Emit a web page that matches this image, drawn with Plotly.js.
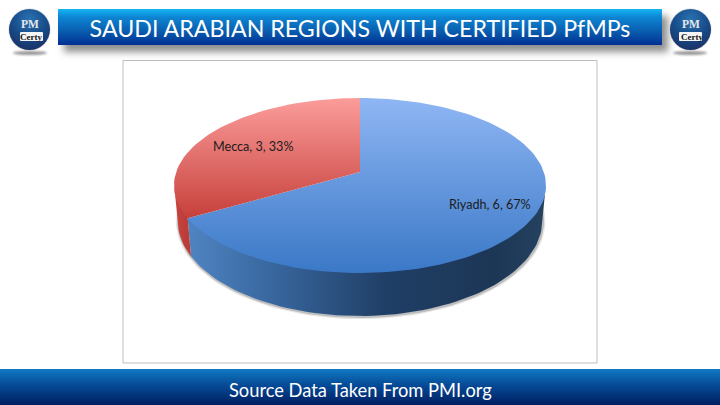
<!DOCTYPE html>
<html><head><meta charset="utf-8">
<script src="https://cdn.plot.ly/plotly-3.0.1.min.js"></script>
<style>
html,body{margin:0;padding:0;background:#fff;width:720px;height:405px;overflow:hidden}
.b{position:absolute}
#chart{position:absolute;left:0;top:0;width:720px;height:405px}
.bar{left:58px;top:9px;width:604px;height:36px;background:linear-gradient(#15b6f2 0%,#0d86d4 22%,#0a5fb0 60%,#003092 100%);box-shadow:6px 7px 7px rgba(70,70,70,.6)}
.foot{left:0;top:369px;width:720px;height:36px;background:linear-gradient(#1079c4 0%,#064a96 45%,#001f62 100%)}
.logo{top:9px;width:41px;height:41px;border-radius:50%;background:radial-gradient(circle at 50% 25%,#2a71b2 0%,#174a86 50%,#1c2658 100%);box-shadow:0 0 1px #667}
.sh{top:51px;width:34px;height:4px;border-radius:50%;background:#9a9a9a;filter:blur(.8px)}
.tag{top:32px;width:23px;height:9px;background:#f4f4f4;border-radius:1px}
</style></head><body>
<div class="b bar"></div><div class="b foot"></div>
<div class="b sh" style="left:13px"></div><div class="b logo" style="left:9px"></div><div class="b tag" style="left:20px"></div>
<div class="b sh" style="left:673px"></div><div class="b logo" style="left:670px"></div><div class="b tag" style="left:679px"></div>
<div id="chart"></div>
<script>
const categories = ["Riyadh", "Mecca"];
const values = [6, 3];
const titleText = "SAUDI ARABIAN REGIONS WITH CERTIFIED PfMPs";
const footerText = "Source Data Taken From PMI.org";

// Styling and projection of the tilted disc
const topColors = [["#8fb6f4","#3a78c6"],["#fb9d9b","#c53d38"]];
const topGradientEnd = [273, 222];
const sideColors = [
  [[0,"#4f84c2"],[0.25,"#37659c"],[0.55,"#203f66"],[0.85,"#1c3656"],[1,"#24425f"]],
  [[0,"#c8443e"],[1,"#b83a36"]]
];
const labelPos = [[490,204],[253.5,146]];
const P = 27/175, B = -58.88, K = 183.8, CX = 360, CY = 172;

function project(deg, lower){
  const a = deg*Math.PI/180, u = Math.sin(a), v = Math.cos(a), w = 1+P*v;
  const x = K*u/w, y = (CY+B*v)/w;
  return lower ? [CX+x*0.98, 256+(y-218)*1.09] : [CX+x, y];
}
function arc(a0,a1,lower){
  const out=[], n=Math.max(2,Math.ceil(Math.abs(a1-a0)/2));
  for(let i=0;i<=n;i++) out.push(project(a0+(a1-a0)*i/n,lower));
  return out;
}
const total = values.reduce((s,v)=>s+v,0);
const spans=[]; let acc=0;
values.forEach(v=>{const s=acc; acc+=v/total*360; spans.push([s,acc]);});
const SIL0 = Math.acos(-P)*180/Math.PI, SIL1 = 360-SIL0;

const traces=[];
// soft contact shadow
[[5,"rgba(120,120,120,.18)"],[2.5,"rgba(110,110,110,.35)"]].forEach(([w,c])=>{
  const s=arc(SIL0-14,SIL1+14,true);
  traces.push({type:"scatter",mode:"lines",x:s.map(p=>p[0]+0.6),y:s.map(p=>p[1]+0.8),
    line:{color:c,width:w},hoverinfo:"skip",showlegend:false});
});
// rim, tucked slightly under the top face so no white seam shows
spans.forEach((sp,i)=>{
  const a0=Math.max(sp[0],SIL0), a1=Math.min(sp[1],SIL1);
  if(a1<=a0) return;
  const upper=arc(a0,a1,false).map(p=>[p[0],p[1]-2]);
  const poly=upper.concat(arc(a1,a0,true));
  traces.push({type:"scatter",mode:"lines",x:poly.map(p=>p[0]),y:poly.map(p=>p[1]),
    fill:"toself",line:{width:0},hoverinfo:"skip",showlegend:false,
    fillgradient:{type:"horizontal",colorscale:sideColors[i]}});
});
// top faces
spans.forEach((sp,i)=>{
  const poly=[[CX,CY]].concat(arc(sp[0],sp[1],false),[[CX,CY]]);
  traces.push({type:"scatter",mode:"lines",name:categories[i],x:poly.map(p=>p[0]),y:poly.map(p=>p[1]),
    fill:"toself",line:{width:0},hoverinfo:"skip",showlegend:false,
    fillgradient:{type:"vertical",start:98,stop:topGradientEnd[i],
      colorscale:[[0,topColors[i][0]],[1,topColors[i][1]]]}});
});

const annotations = categories.map((c,i)=>({
  x:labelPos[i][0],y:labelPos[i][1],xref:"x",yref:"y",showarrow:false,
  text:`${c}, ${values[i]}, ${Math.round(values[i]/total*100)}%`,
  font:{family:"Lato, Carlito, sans-serif",size:12.6,color:"#1c1c1c"}
}));
annotations.push({x:360,y:390,xref:"x",yref:"y",showarrow:false,text:footerText,
  font:{family:"Lato, sans-serif",size:18.3,color:"#fff"}});
[30,690.5].forEach(x=>{
  annotations.push({x:x,y:23.5,xref:"x",yref:"y",showarrow:false,text:"<b>PM</b>",
    font:{family:"Liberation Serif, serif",size:11.5,color:"#e8e8e8"}});
  annotations.push({x:x+1,y:36.5,xref:"x",yref:"y",showarrow:false,text:"<b>Certy</b>",
    font:{family:"Liberation Serif, serif",size:9,color:"#111"}});
});

const layout={
  width:720,height:405,margin:{l:0,r:0,t:0,b:0},
  paper_bgcolor:"rgba(0,0,0,0)",plot_bgcolor:"rgba(0,0,0,0)",showlegend:false,
  title:{text:titleText,x:0.5,xanchor:"center",y:0.9285,yanchor:"middle",
    font:{family:"Lato, sans-serif",size:23.2,color:"#fff"}},
  xaxis:{range:[0,720],visible:false,fixedrange:true},
  yaxis:{range:[405,0],visible:false,fixedrange:true},
  shapes:[{type:"rect",xref:"x",yref:"y",x0:123,x1:597,y0:60.5,y1:363,
    line:{color:"#bdbdbd",width:1},fillcolor:"#fff",layer:"below"}],
  annotations
};
Plotly.newPlot("chart",traces,layout,{displayModeBar:false,staticPlot:true});
</script>
</body></html>
